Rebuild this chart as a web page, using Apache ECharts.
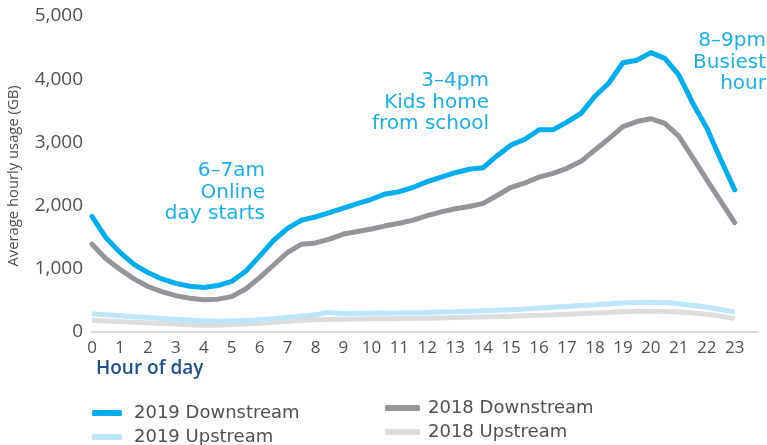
<!DOCTYPE html>
<html>
<head>
<meta charset="utf-8">
<script src="https://cdn.jsdelivr.net/npm/echarts@6/dist/echarts.min.js"></script>
<style>
html,body{margin:0;padding:0;background:#fff;}
#chart{width:767px;height:445px;}
</style>
</head>
<body>
<div id="chart"></div>
<script>
// Half-hour sample positions (hour of day)
const hours = [0,0.5,1,1.5,2,2.5,3,3.5,4,4.5,5,5.5,6,6.5,7,7.5,8,8.5,9,9.5,10,10.5,11,11.5,12,12.5,13,13.5,14,14.5,15,15.5,16,16.5,17,17.5,18,18.5,19,19.5,20,20.5,21,21.5,22,22.5,23];
const hourTicks = [0,1,2,3,4,5,6,7,8,9,10,11,12,13,14,15,16,17,18,19,20,21,22,23];
const yTicks = [0,1000,2000,3000,4000,5000];

const down2019 = [1830,1490,1260,1070,940,840,770,725,705,735,800,960,1200,1450,1640,1770,1820,1890,1960,2030,2100,2185,2220,2290,2380,2450,2520,2575,2600,2790,2960,3050,3200,3200,3320,3460,3730,3940,4260,4300,4420,4330,4070,3620,3230,2730,2250];
const down2018 = [1390,1160,990,840,720,640,575,535,510,520,560,680,860,1060,1260,1390,1410,1470,1550,1590,1630,1680,1720,1770,1840,1900,1950,1985,2035,2160,2290,2360,2450,2510,2590,2700,2880,3060,3250,3330,3375,3300,3100,2760,2410,2070,1730];
const up2019 = [290,272,258,243,228,213,200,188,178,174,176,183,195,212,232,252,272,310,292,295,298,300,302,304,308,315,322,330,338,345,352,365,378,392,405,418,430,445,460,468,472,465,448,420,392,355,315];
const up2018 = [186,175,165,155,145,135,125,115,105,108,115,125,140,155,170,185,195,200,203,205,208,210,212,213,218,222,228,233,238,243,250,258,265,272,280,290,300,310,320,328,330,325,315,300,280,250,215];

const colors = {'2019 Downstream':'#00AEEF','2019 Upstream':'#BDE6FA','2018 Downstream':'#939598','2018 Upstream':'#DDDDDE'};

// Annotation texts (right-aligned blocks)
const notes = [
  {lines:['6–7am','Online','day starts'], right:502, top:161},
  {lines:['3–4pm','Kids home','from school'], right:278, top:71},
  {lines:['8–9pm','Busiest','hour'], right:1, top:31}
];

function pairs(vals){ return hours.map((h,i)=>[h, vals[i]]); }

const WIDE = '"DejaVu Sans", "Open Sans", sans-serif';
const FONT = '"Open Sans", "Noto Sans", sans-serif';
const annColor = '#1AB0EB';
const textGray = '#505052';

const graphics = [
  {type:'text', left:96, top:359, style:{text:'Hour of day', fill:'#1F4F8F', font:'600 19px ' + FONT}},
  {type:'text', x:14, y:176, rotation:Math.PI/2,
   style:{text:'Average hourly usage (GB)', fill:textGray, font:'14.8px ' + FONT, align:'center', verticalAlign:'middle'}}
];
notes.forEach(n => {
  n.lines.forEach((t, i) => {
    graphics.push({type:'text', right:n.right, top:n.top + i*21.5,
      style:{text:t, fill:annColor, font:'20px ' + WIDE}});
  });
});

const chart = echarts.init(document.getElementById('chart'), null, {renderer:'canvas'});
chart.setOption({
  animation:false,
  backgroundColor:'#fff',
  textStyle:{fontFamily:FONT},
  grid:{left:92, right:10, top:16, bottom:113, containLabel:false, outerBoundsMode:'none'},
  xAxis:{
    type:'value', min:0, max:23.8, interval:1,
    axisLine:{show:true, lineStyle:{color:'#DADADA', width:2}},
    axisTick:{show:false},
    splitLine:{show:false},
    axisLabel:{color:textGray, fontSize:17, margin:8, fontFamily:FONT,
      showMaxLabel:false,
      formatter:v => hourTicks.includes(v) ? String(v) : ''}
  },
  yAxis:{
    type:'value', min:yTicks[0], max:yTicks[yTicks.length-1], interval:1000,
    axisLine:{show:false}, axisTick:{show:false}, splitLine:{show:false},
    axisLabel:{color:textGray, fontSize:19, margin:9, fontFamily:FONT,
      formatter:v => v.toLocaleString('en-US')}
  },
  legend:[
    {data:['2019 Downstream','2019 Upstream'], orient:'vertical', left:87, top:399, height:70, itemGap:6,
     itemWidth:30, itemHeight:6, icon:'roundRect',
     textStyle:{color:textGray, fontSize:18, fontFamily:WIDE, padding:[0,0,0,7]}},
    {data:['2018 Downstream','2018 Upstream'], orient:'vertical', left:380, top:394, height:70, itemGap:6,
     itemWidth:35, itemHeight:6, icon:'roundRect',
     textStyle:{color:textGray, fontSize:18, fontFamily:WIDE, padding:[0,0,0,3]}}
  ],
  graphic:graphics,
  series:[
    {name:'2018 Upstream', type:'line', data:pairs(up2018), symbol:'none', smooth:0.4,
     lineStyle:{color:colors['2018 Upstream'], width:5}, itemStyle:{color:colors['2018 Upstream']}, z:1},
    {name:'2019 Upstream', type:'line', data:pairs(up2019), symbol:'none', smooth:0.4,
     lineStyle:{color:colors['2019 Upstream'], width:5}, itemStyle:{color:colors['2019 Upstream']}, z:2},
    {name:'2018 Downstream', type:'line', data:pairs(down2018), symbol:'none',
     lineStyle:{color:colors['2018 Downstream'], width:5, cap:'round', join:'round'}, itemStyle:{color:colors['2018 Downstream']}, z:3},
    {name:'2019 Downstream', type:'line', data:pairs(down2019), symbol:'none',
     lineStyle:{color:colors['2019 Downstream'], width:5, cap:'round', join:'round'}, itemStyle:{color:colors['2019 Downstream']}, z:4}
  ]
});
</script>
</body>
</html>
